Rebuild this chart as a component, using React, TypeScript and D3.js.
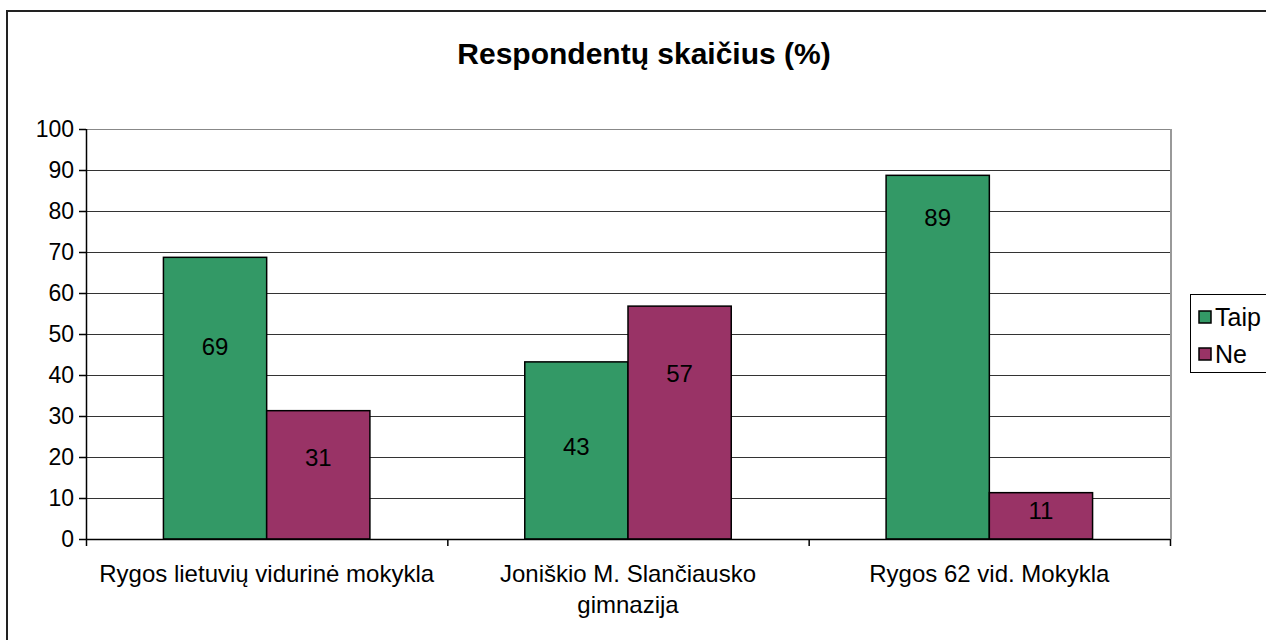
import React from "react";
import * as d3 from "d3";

const categories = [
  ["Rygos lietuvių vidurinė mokykla"],
  ["Joniškio M. Slančiausko", "gimnazija"],
  ["Rygos 62 vid. Mokykla"],
];
const seriesNames = ["Taip", "Ne"];
const taip = [68.7, 43.2, 88.7];
const ne = [31.3, 56.8, 11.3];
const taipLabels = ["69", "43", "89"];
const neLabels = ["31", "57", "11"];
// label anchor positions in value units (as placed in the original chart)
const taipLabelAt = [47.1, 22.7, 78.5];
const neLabelAt = [20.0, 40.5, 7.1];
const yTicks = [0, 10, 20, 30, 40, 50, 60, 70, 80, 90, 100];
const colors = ["#339966", "#993366"];

export default function App() {
  const W = 1266, H = 640;
  const left = 86, right = 1170, top = 129, bottom = 539;
  const font = "'Liberation Sans', Arial, sans-serif";
  const x = d3.scaleBand<number>().domain([0, 1, 2]).range([left, right]).padding(0);
  const y = d3.scaleLinear().domain([0, 100]).range([bottom, top]);
  const bw = x.bandwidth();
  const barW = bw / 3.5;
  const series = [taip, ne];
  const labels = [taipLabels, neLabels];
  const labelAt = [taipLabelAt, neLabelAt];
  const h = 0.5;

  return (
    <div style={{ position: "fixed", left: 0, top: 0 }}>
      <svg width={W} height={H} style={{ display: "block", background: "#fff" }}>
        <rect x={7} y={11} width={1300} height={700} fill="#fff" stroke="#222" strokeWidth={2} />
        <text x={644} y={64} textAnchor="middle" fontFamily={font} fontWeight="bold" fontSize={30} fill="#000">
          Respondentų skaičius (%)
        </text>
        {/* gridlines */}
        {yTicks.map((t) => (
          <line key={"g" + t} x1={left} x2={right} y1={y(t) + h} y2={y(t) + h} stroke={t === 100 ? "#888" : "#333"} strokeWidth={1} shapeRendering="crispEdges" />
        ))}
        <line x1={right + h} x2={right + h} y1={top} y2={bottom} stroke="#999" strokeWidth={2} shapeRendering="crispEdges" />
        {/* bars */}
        {series.map((s, si) =>
          s.map((v, i) => {
            const bx = (x(i) as number) + (bw - 2 * barW) / 2 + si * barW;
            return (
              <rect key={si + "-" + i} x={bx} y={y(v)} width={barW} height={y(0) - y(v)} fill={colors[si]} stroke="#000" strokeWidth={1.5} />
            );
          })
        )}
        {series.map((s, si) =>
          s.map((v, i) => {
            const bx = (x(i) as number) + (bw - 2 * barW) / 2 + si * barW;
            return (
              <text key={"l" + si + "-" + i} x={bx + barW / 2} y={y(labelAt[si][i])} dy="0.36em" textAnchor="middle" fontFamily={font} fontSize={24} fill="#000">
                {labels[si][i]}
              </text>
            );
          })
        )}
        {/* axes */}
        <line x1={left + h} x2={left + h} y1={top} y2={bottom} stroke="#000" strokeWidth={1.5} />
        <line x1={left} x2={right} y1={bottom + h} y2={bottom + h} stroke="#000" strokeWidth={1.5} />
        {yTicks.map((t) => (
          <g key={"t" + t}>
            <line x1={left - 7} x2={left} y1={y(t) + h} y2={y(t) + h} stroke="#000" strokeWidth={1.5} />
            <text x={left - 12} y={y(t)} dy="0.36em" textAnchor="end" fontFamily={font} fontSize={23} fill="#000">
              {t}
            </text>
          </g>
        ))}
        {[0, 1, 2, 3].map((i) => {
          const xx = i < 3 ? (x(i) as number) : right;
          return <line key={"xt" + i} x1={xx + h} x2={xx + h} y1={bottom} y2={bottom + 7} stroke="#000" strokeWidth={1.5} />;
        })}
        {categories.map((lines, i) => (
          <text key={"c" + i} textAnchor="middle" fontFamily={font} fontSize={24} fill="#000">
            {lines.map((ln, k) => (
              <tspan key={k} x={(x(i) as number) + bw / 2} y={582 + k * 31}>
                {ln}
              </tspan>
            ))}
          </text>
        ))}
        {/* legend */}
        <rect x={1190.5} y={294.5} width={100} height={78} fill="#fff" stroke="#000" strokeWidth={1} />
        {seriesNames.map((n, i) => (
          <g key={"lg" + i}>
            <rect x={1199} y={311 + i * 37} width={12} height={12} fill={colors[i]} stroke="#000" strokeWidth={1.5} />
            <text x={1215} y={317 + i * 37} dy="0.36em" fontFamily={font} fontSize={25} fill="#000">
              {n}
            </text>
          </g>
        ))}
      </svg>
    </div>
  );
}
